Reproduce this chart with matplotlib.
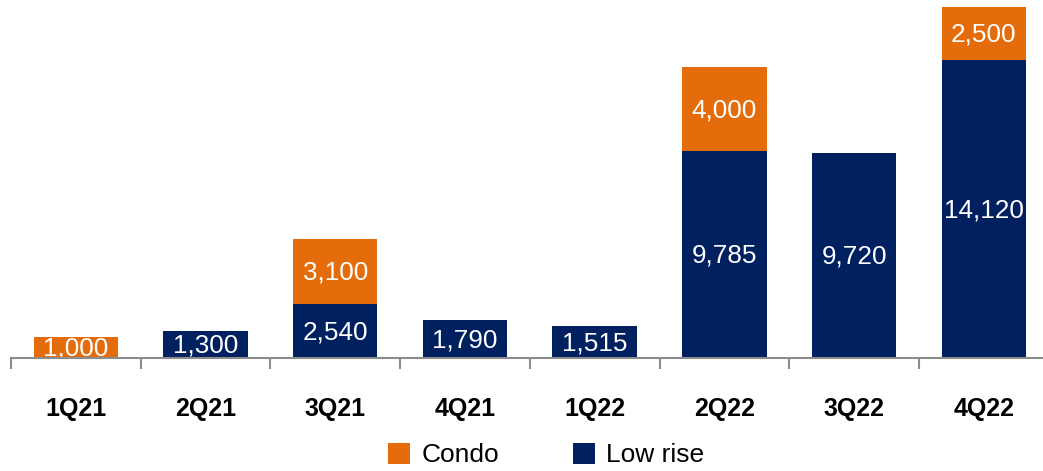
import matplotlib
matplotlib.use("Agg")
import matplotlib.pyplot as plt
from matplotlib.patches import Patch
import numpy as np

categories = ["1Q21", "2Q21", "3Q21", "4Q21", "1Q22", "2Q22", "3Q22", "4Q22"]
low_rise = [0, 1300, 2540, 1790, 1515, 9785, 9720, 14120]
condo = [1000, 0, 3100, 0, 0, 4000, 0, 2500]

ORANGE = "#E46C0A"
NAVY = "#002060"

plt.rcParams['font.family'] = ['Liberation Sans', 'DejaVu Sans']

fig = plt.figure(figsize=(10.43, 4.71), dpi=100)
ax = fig.add_axes([11/1043, (471-358)/471, 8*129.7/1043, 351/471])

x = np.arange(len(categories))
w = 0.65
ax.bar(x, low_rise, width=w, color=NAVY, zorder=2)
ax.bar(x, condo, width=w, bottom=low_rise, color=ORANGE, zorder=2)

for i in range(len(categories)):
    if low_rise[i] > 0:
        ax.text(x[i], low_rise[i] / 2 - 60, f"{low_rise[i]:,}", ha="center", va="center",
                color="white", fontsize=18.8, zorder=3)
    if condo[i] > 0:
        ax.text(x[i], low_rise[i] + condo[i] / 2 - 60, f"{condo[i]:,}", ha="center", va="center",
                color="white", fontsize=18.8, zorder=3)

ax.set_xlim(-0.5, 7.5)
ax.set_ylim(0, 16620)
ax.set_yticks([])
for s in ["top", "right", "left"]:
    ax.spines[s].set_visible(False)
ax.spines["bottom"].set_color("#8C8C8C")
ax.spines["bottom"].set_linewidth(1.5)
ax.spines["bottom"].set_zorder(4)

ax.set_xticks(x)
ax.set_xticklabels(categories, fontsize=18, fontweight="bold")
ax.tick_params(axis="x", which="major", length=0, pad=28)
ax.set_xticks(np.arange(-0.5, 8.0, 1.0), minor=True)
ax.tick_params(axis="x", which="minor", length=8, width=1.5, color="#8C8C8C", direction="out")

handles = [Patch(facecolor=ORANGE, label="Condo"), Patch(facecolor=NAVY, label="Low rise")]
fig.legend(handles=handles, loc="center", bbox_to_anchor=(546/1043, 1 - 455/471), ncol=2,
           frameon=False, fontsize=19, handlelength=0.85, handleheight=0.85,
           handletextpad=0.42, columnspacing=2.8, borderaxespad=0, borderpad=0)

fig.savefig("out.png", dpi=100)
